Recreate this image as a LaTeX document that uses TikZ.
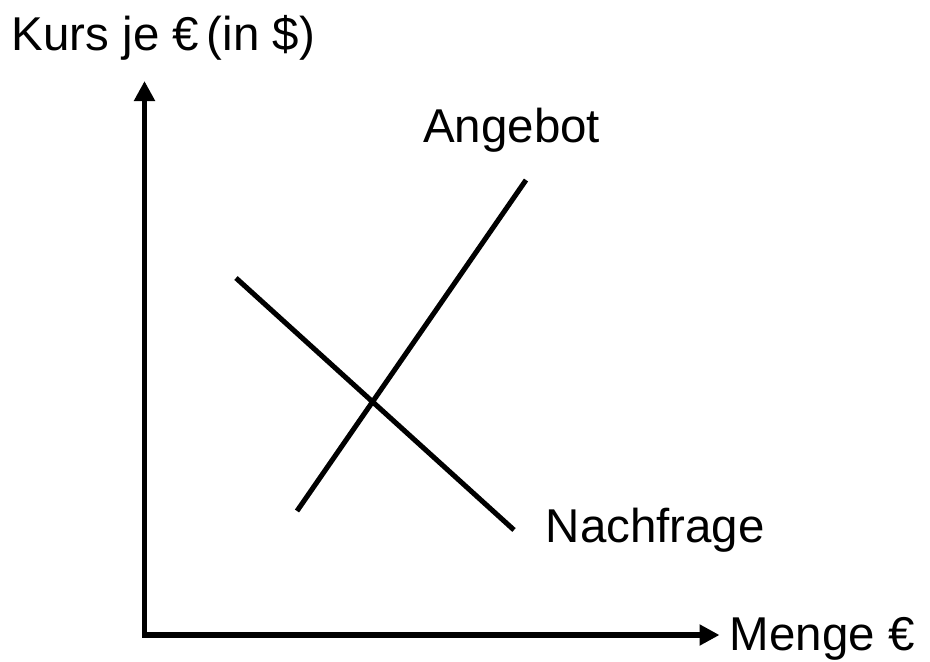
\documentclass[tikz,border=0pt]{standalone}
\usepackage{fontspec}
\setmainfont{Liberation Sans}
\usetikzlibrary{arrows.meta}
\tikzset{
  axisarrow/.style={{Triangle[length=15pt, width=15pt]}-{Triangle[length=15pt, width=15pt]}, line width=3.8pt, black},
  curveline/.style={line width=3.8pt, black},
  labeltext/.style={inner sep=0pt, anchor=base west, font=\fontsize{35.6}{40}\selectfont}
}
\begin{document}
\begin{tikzpicture}[x=0.75pt, y=-0.75pt]
    \useasboundingbox (0,0) rectangle (930,661);
    \coordinate (origin) at (144.5,635);
    \coordinate (ytip) at (144.5,81);
    \coordinate (xtip) at (719.5,635);
    \coordinate (d1) at (236,278);
    \coordinate (d2) at (514,530);
    \coordinate (s1) at (297,511);
    \coordinate (s2) at (526,180);

    \node (ylabel) [labeltext] at (11.5,50) {Kurs je €\,(in \$)};
    \node (xlabel) [labeltext] at (729.5,650) {Menge €};
    \node (supply) [labeltext] at (423,142.5) {Angebot};
    \node (demand) [labeltext] at (545.5,542.5) {Nachfrage};

    \draw[axisarrow] (ytip) -- (origin) -- (xtip);
    \draw[curveline] (d1) -- (d2);
    \draw[curveline] (s1) -- (s2);
\end{tikzpicture}
\end{document}
